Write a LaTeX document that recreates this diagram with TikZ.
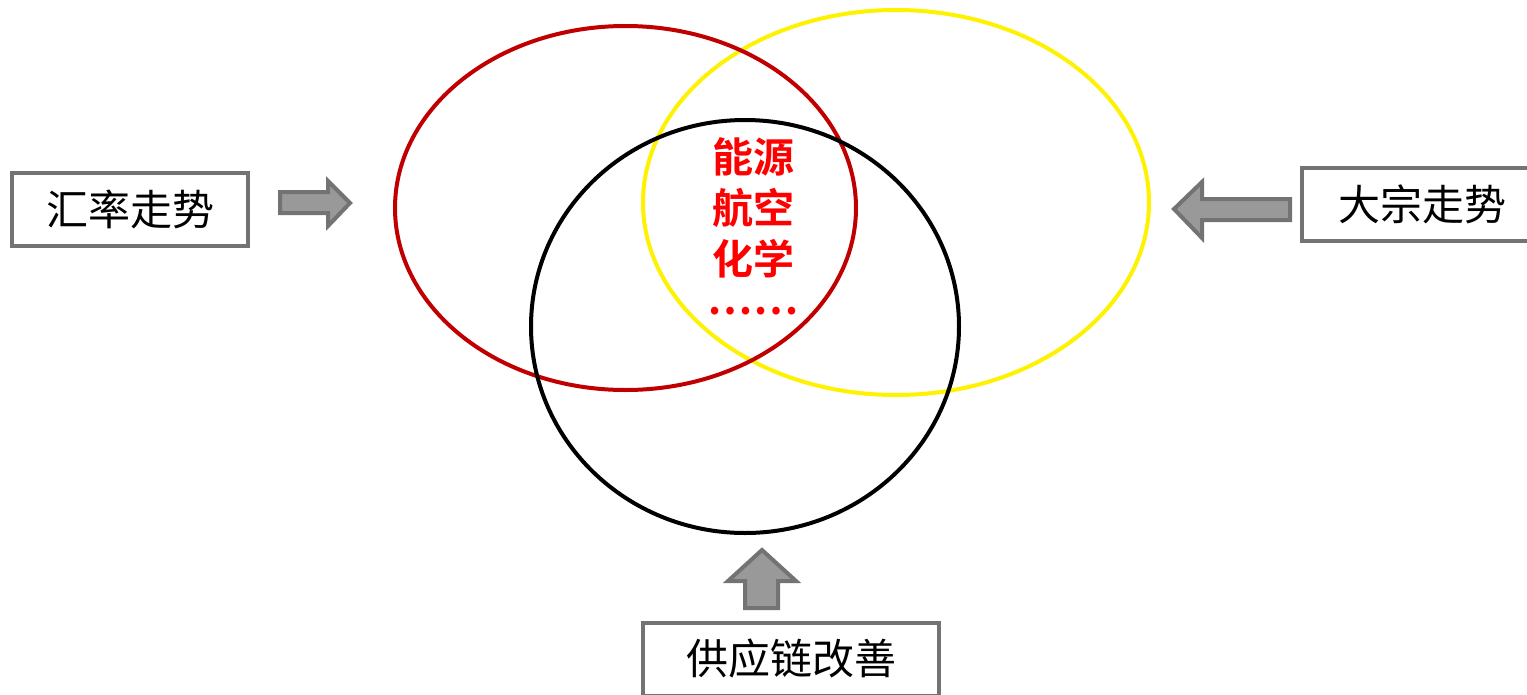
\documentclass[tikz,border=0pt]{standalone}
\usepackage{fontspec}
\newfontfamily\cjk{Noto Sans CJK SC}
\newfontfamily\cjkb{Noto Sans CJK SC Bold}
\begin{document}
\begin{tikzpicture}[x=1pt,y=-1pt,
  boxst/.style={draw=black!55, line width=4pt, fill=white, minimum width=236pt, minimum height=73pt, inner sep=0pt, font=\cjk\fontsize{42}{44}\selectfont},
  arr/.style={draw=black!55, fill=black!40, line width=4pt, line join=miter},
  ring/.style={line width=4pt}]
\useasboundingbox (0,0) rectangle (1527,694);
\definecolor{dred}{HTML}{C00000}
\draw[ring, yellow] (896,202.5) ellipse [x radius=253, y radius=192.5];
\draw[ring, dred] (625.5,208) ellipse [x radius=230.5, y radius=182];
\draw[ring, black] (745,326.5) ellipse [x radius=214, y radius=206.5];
\node[align=center, text=red, font=\cjkb\fontsize{41}{51}\selectfont] (txt) at (753,232) {能源\\航空\\化学\\\raisebox{11pt}{……}};
\node[boxst] (lb) at (130,209.5) {汇率走势};
\node[boxst, minimum width=240pt] (rb) at (1422,204.5) {大宗走势};
\node[boxst, minimum width=296pt] (bb) at (791,659) {供应链改善};
\draw[arr] (280,192) -- (328,192) -- (328,181) -- (350,203) -- (328,226) -- (328,213) -- (280,213) -- cycle;
\draw[arr] (1290,199) -- (1202,199) -- (1202,182) -- (1174,209) -- (1202,238) -- (1202,220) -- (1290,220) -- cycle;
\draw[arr] (745,608) -- (745,581) -- (728,581) -- (762,550) -- (796,581) -- (778,581) -- (778,608) -- cycle;
\end{tikzpicture}
\end{document}
